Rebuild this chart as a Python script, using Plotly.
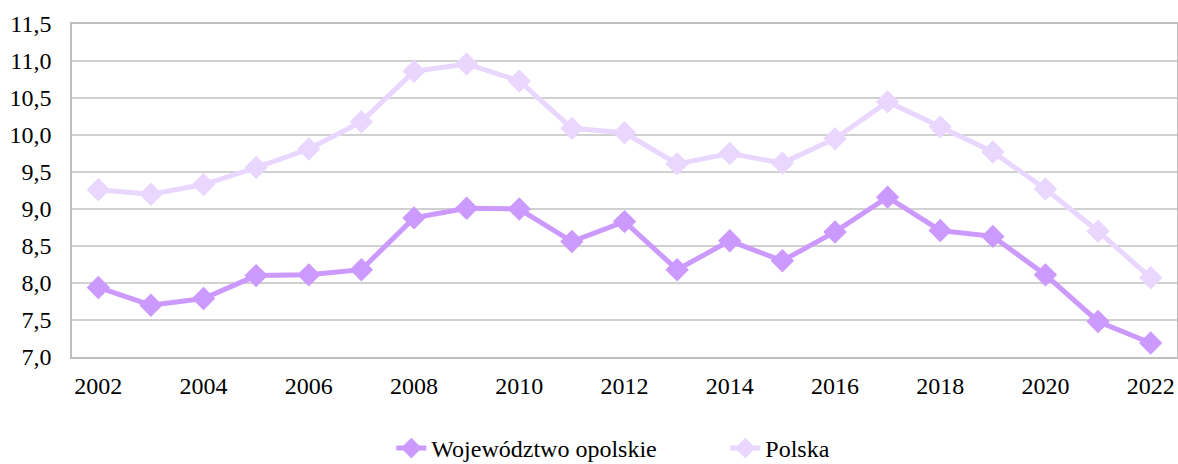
import plotly.graph_objects as go

years = list(range(2002, 2023))
opolskie = [7.94, 7.70, 7.79, 8.10, 8.11, 8.18, 8.88, 9.01, 9.00, 8.56, 8.83,
            8.18, 8.57, 8.30, 8.69, 9.16, 8.71, 8.63, 8.11, 7.48, 7.19]
polska = [9.26, 9.20, 9.33, 9.56, 9.81, 10.18, 10.86, 10.96, 10.73, 10.09, 10.03,
          9.61, 9.75, 9.62, 9.95, 10.45, 10.11, 9.77, 9.27, 8.70, 8.07]
series_names = ["Województwo opolskie", "Polska"]
colors = ["#CC99FF", "#EAD7FF"]
yticks = [7.0, 7.5, 8.0, 8.5, 9.0, 9.5, 10.0, 10.5, 11.0, 11.5]
xticks = list(range(2002, 2023, 2))

fig = go.Figure()
for name, vals, c in zip(series_names, [opolskie, polska], colors):
    fig.add_trace(go.Scatter(
        x=years, y=vals, name=name, mode="lines+markers",
        line=dict(color=c, width=5),
        marker=dict(symbol="diamond", size=18, color=c),
    ))

font = "'Times New Roman', 'Liberation Serif', serif"
fig.update_layout(
    width=1178, height=464,
    margin=dict(l=72, r=1, t=24, b=107, autoexpand=False),
    paper_bgcolor="white", plot_bgcolor="white",
    font=dict(family=font, size=24, color="black"),
    legend=dict(orientation="h", x=0.289, xanchor="left", y=-0.207, yanchor="top",
                font=dict(family=font, size=24), tracegroupgap=0,
                entrywidth=289, entrywidthmode="pixels"),
    showlegend=True,
)
fig.update_xaxes(range=[2001.5, 2022.5], tickvals=xticks, ticktext=[str(t) for t in xticks],
                 showgrid=False, showline=True, linecolor="#BFBFBF", linewidth=1.5,
                 mirror=True, ticks="", ticklabelstandoff=6, automargin=False)
fig.update_yaxes(range=[7.0, 11.5], tickvals=yticks,
                 ticktext=[f"{v:.1f}".replace(".", ",") for v in yticks],
                 showgrid=True, gridcolor="#D0D0D0", gridwidth=1.5,
                 showline=True, linecolor="#BFBFBF", linewidth=1.5, mirror=True,
                 ticks="", zeroline=False, ticklabelstandoff=14, automargin=False)

fig.write_html("out.html", config={"displayModeBar": False},
               post_script="document.body.style.margin='0';document.body.style.overflow='hidden';")
